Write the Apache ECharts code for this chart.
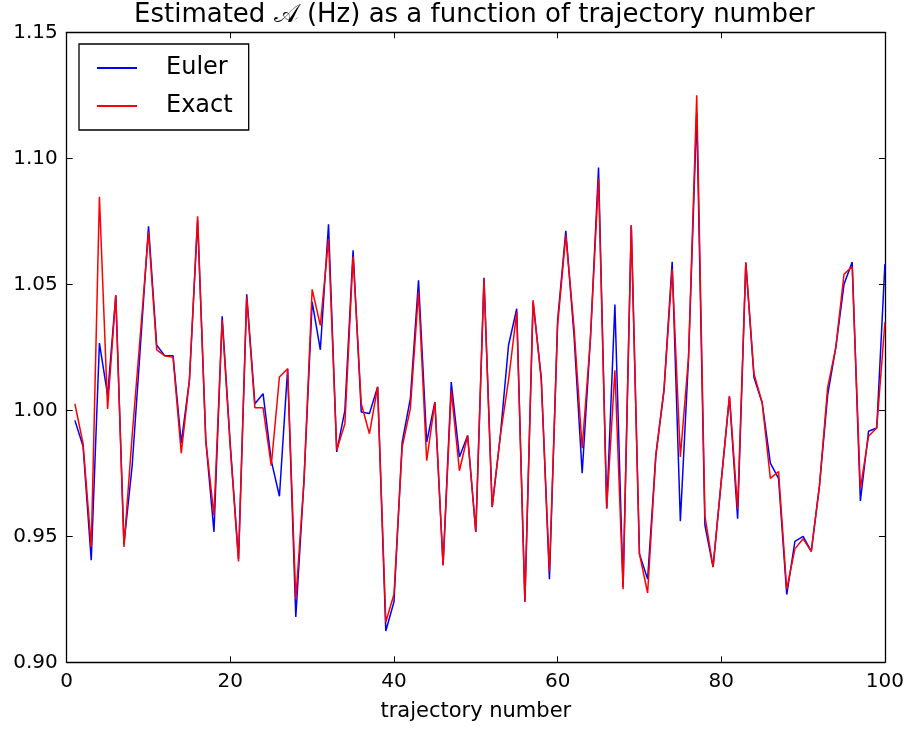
<!DOCTYPE html>
<html>
<head>
<meta charset="utf-8">
<script src="https://cdn.jsdelivr.net/npm/echarts@6/dist/echarts.min.js"></script>
<style>
html,body{margin:0;padding:0;background:#fff;}
#chart{width:907px;height:729px;}
</style>
</head>
<body>
<div id="chart"></div>
<script>
var trajectory = [1,2,3,4,5,6,7,8,9,10,11,12,13,14,15,16,17,18,19,20,
  21,22,23,24,25,26,27,28,29,30,31,32,33,34,35,36,37,38,39,40,
  41,42,43,44,45,46,47,48,49,50,51,52,53,54,55,56,57,58,59,60,
  61,62,63,64,65,66,67,68,69,70,71,72,73,74,75,76,77,78,79,80,
  81,82,83,84,85,86,87,88,89,90,91,92,93,94,95,96,97,98,99,100];

var euler = [
  0.996, 0.9857, 0.9405, 1.0267, 1.006, 1.0456, 0.947, 0.978, 1.025, 1.073,
  1.0258, 1.0216, 1.0216, 0.987, 1.012, 1.0754, 0.988, 0.9517, 1.0373, 0.986,
  0.941, 1.046, 1.0026, 1.0066, 0.980, 0.9659, 1.0165, 0.918, 0.972, 1.043,
  1.024, 1.0738, 0.9835, 1.000, 1.0635, 0.9993, 0.9987, 1.0093, 0.9124, 0.924,
  0.9874, 1.0046, 1.0516, 0.9874, 1.0033, 0.9385, 1.0112, 0.9815, 0.990, 0.9517,
  1.0526, 0.9616, 0.990, 1.0258, 1.0403, 0.924, 1.043, 1.013, 0.933, 1.0357,
  1.0712, 1.030, 0.975, 1.028, 1.0963, 0.961, 1.042, 0.930, 1.0734, 0.943,
  0.933, 0.982, 1.008, 1.0589, 0.956, 1.021, 1.118, 0.9544, 0.9378, 0.972,
  1.0053, 0.957, 1.0586, 1.013, 1.003, 0.979, 0.973, 0.9269, 0.948, 0.950,
  0.944, 0.970, 1.006, 1.025, 1.050, 1.0588, 0.964, 0.9917, 0.993, 1.058];

var exact = [
  1.0026, 0.9868, 0.9458, 1.0847, 1.0005, 1.0456, 0.9458, 0.990, 1.030, 1.0708,
  1.024, 1.0216, 1.021, 0.983, 1.012, 1.077, 0.988, 0.9583, 1.0357, 0.985,
  0.940, 1.045, 1.001, 1.001, 0.978, 1.0132, 1.0165, 0.925, 0.972, 1.048,
  1.0337, 1.068, 0.9842, 0.9947, 1.061, 1.0026, 0.9907, 1.0093, 0.916, 0.927,
  0.9854, 1.0007, 1.047, 0.980, 1.0033, 0.9385, 1.0079, 0.976, 0.990, 0.9517,
  1.052, 0.9616, 0.990, 1.012, 1.039, 0.924, 1.0437, 1.0119, 0.936, 1.034,
  1.0694, 1.033, 0.985, 1.028, 1.092, 0.961, 1.0159, 0.929, 1.0734, 0.943,
  0.9275, 0.982, 1.008, 1.056, 0.9815, 1.021, 1.125, 0.958, 0.9378, 0.972,
  1.0057, 0.961, 1.0586, 1.0144, 1.003, 0.973, 0.9757, 0.929, 0.945, 0.949,
  0.944, 0.970, 1.009, 1.025, 1.054, 1.057, 0.969, 0.9897, 0.993, 1.035];

var seriesNames = ['Euler', 'Exact'];
var titleText = 'Estimated \uD835\uDC9C (Hz) as a function of trajectory number';
var xLabel = 'trajectory number';

var FONT = 'DejaVu Sans';

function pairs(ys) {
  return trajectory.map(function (x, i) { return [x, ys[i]]; });
}

var chart = echarts.init(document.getElementById('chart'), null, {renderer: 'canvas'});

var axisLineStyle = {color: '#000', width: 1.3};
var tickStyle = {color: '#000', width: 1};

chart.setOption({
  animation: false,
  backgroundColor: '#fff',
  title: {
    text: titleText,
    left: 134,
    top: 2,
    padding: 0,
    textStyle: {fontFamily: FONT, fontSize: 26, fontWeight: 'normal', color: '#000'}
  },
  grid: {left: 66.7, right: 21.5, top: 32.3, bottom: 66.7, containLabel: false},
  legend: {
    orient: 'vertical',
    left: 79,
    top: 44,
    padding: [12, 16, 12, 18],
    itemGap: 14,
    itemWidth: 40,
    itemHeight: 2,
    icon: 'rect',
    borderColor: '#000',
    borderWidth: 1.3,
    borderRadius: 0,
    backgroundColor: '#fff',
    textStyle: {fontFamily: FONT, fontSize: 24, color: '#000', padding: [0, 0, 0, 24]},
    data: seriesNames
  },
  xAxis: [{
    type: 'value', min: 0, max: 100, interval: 20, position: 'bottom',
    name: xLabel, nameLocation: 'middle', nameGap: 39,
    nameTextStyle: {fontFamily: FONT, fontSize: 21, color: '#000'},
    axisLine: {show: true, onZero: false, lineStyle: axisLineStyle},
    axisTick: {show: true, inside: true, length: 6, lineStyle: tickStyle},
    axisLabel: {fontFamily: FONT, fontSize: 20, color: '#000', margin: 9},
    splitLine: {show: false}
  }, {
    type: 'value', min: 0, max: 100, interval: 20, position: 'top',
    axisLine: {show: true, onZero: false, lineStyle: axisLineStyle},
    axisTick: {show: true, inside: true, length: 6, lineStyle: tickStyle},
    axisLabel: {show: false},
    splitLine: {show: false}
  }],
  yAxis: [{
    type: 'value', min: 0.9, max: 1.15, interval: 0.05, position: 'left',
    axisLine: {show: true, onZero: false, lineStyle: axisLineStyle},
    axisTick: {show: true, inside: true, length: 6, lineStyle: tickStyle},
    axisLabel: {fontFamily: FONT, fontSize: 20, color: '#000', margin: 9,
      formatter: function (v) { return v.toFixed(2); }},
    splitLine: {show: false}
  }, {
    type: 'value', min: 0.9, max: 1.15, interval: 0.05, position: 'right',
    axisLine: {show: true, onZero: false, lineStyle: axisLineStyle},
    axisTick: {show: true, inside: true, length: 6, lineStyle: tickStyle},
    axisLabel: {show: false},
    splitLine: {show: false}
  }],
  series: [{
    name: seriesNames[0], type: 'line', xAxisIndex: 0, yAxisIndex: 0,
    data: pairs(euler), showSymbol: false, symbol: 'none',
    lineStyle: {color: '#0000ff', width: 1.5}, itemStyle: {color: '#0000ff'},
    z: 2
  }, {
    name: seriesNames[1], type: 'line', xAxisIndex: 0, yAxisIndex: 0,
    data: pairs(exact), showSymbol: false, symbol: 'none',
    lineStyle: {color: '#ff0000', width: 1.5}, itemStyle: {color: '#ff0000'},
    z: 3
  }]
});
</script>
</body>
</html>
